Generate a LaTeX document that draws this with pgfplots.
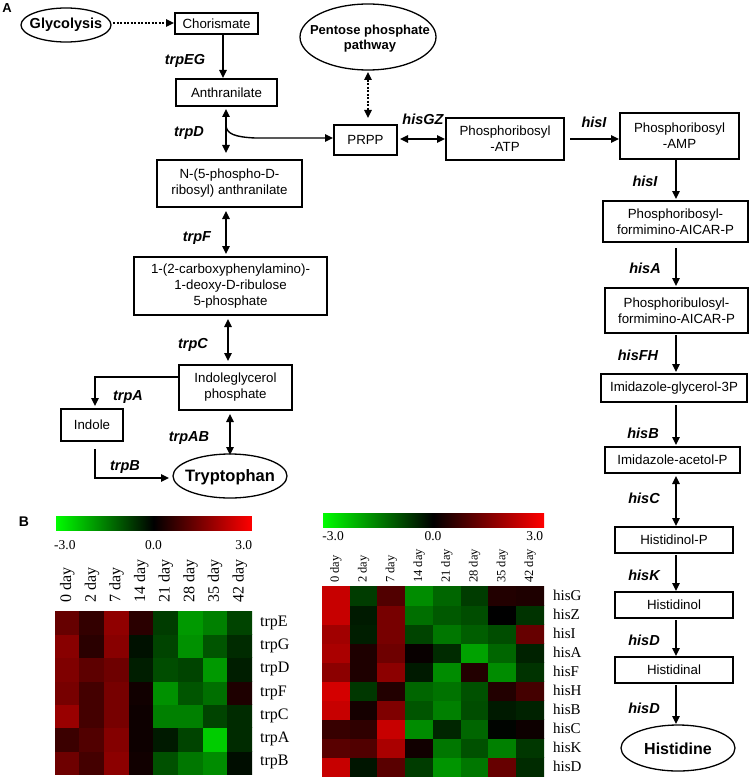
\documentclass[border=0pt]{standalone}
\usepackage{pgfplots}
\pgfplotsset{compat=1.18}
\usepackage{fontspec}
\setmainfont{Liberation Sans}
\newfontfamily\tnr{Liberation Serif}
\usetikzlibrary{arrows.meta}
\tikzset{
 bx/.style={draw, line width=1.1pt},
 tx/.style={font=\fontsize{13.3}{16}\selectfont, align=center, inner sep=0pt},
 gn/.style={font=\bfseries\itshape\fontsize{14.5}{16}\selectfont, inner sep=0pt},
 ar/.style={line width=1.4pt, -{Triangle[length=8pt,width=7.5pt]}},
 dar/.style={line width=1.4pt, {Triangle[length=8pt,width=7.5pt]}-{Triangle[length=8pt,width=7.5pt]}},
 dot/.style={line width=1.4pt, dash pattern=on 2pt off 1.5pt},
}
\newcommand{\bx}[5]{\draw[bx] (#1,-#2) rectangle (#3,-#4); \node[tx] at ({(#1+#3)/2},{-(#2+#4)/2}) {#5};}
\newcommand{\gl}[3]{\node[gn] at (#1,-#2) {#3};}
\pgfplotsset{
 hm/.style={anchor=south west, scale only axis, enlargelimits=false,
  xmin=-0.5, xmax=7.5,
  xtick={0,...,7}, xticklabels={0 day,2 day,7 day,14 day,21 day,28 day,35 day,42 day},
  xticklabel pos=upper,
  xticklabel style={rotate=90, anchor=west, inner sep=0pt},
  yticklabel pos=right,
  axis line style={draw=none}, major tick length=0pt,
  colormap={rg}{rgb255=(0,255,0) rgb255=(0,0,0) rgb255=(255,0,0)},
  point meta min=-3, point meta max=3,
  colorbar horizontal,
 },
 cb/.style={scale only axis, xtick={-2.7,0,2.75}, xticklabels={-3.0,0.0,3.0},
  xticklabel pos=lower, major tick length=0pt, axis line style={draw=none},
  xticklabel style={font=\tnr\fontsize{13.5}{14}\selectfont, inner sep=0pt}},
}
\begin{document}
\begin{tikzpicture}[x=1pt,y=1pt]
\useasboundingbox (0pt,0pt) rectangle (750pt,-778pt);
% ---------- Panel A ----------
\node[font=\bfseries\fontsize{13}{15}\selectfont] at (7,-8) {A};
\draw[line width=1.3pt] (66,-25) ellipse (45 and 17);
\node[font=\bfseries\fontsize{14.5}{16}\selectfont] at (66,-25) {Glycolysis};
\draw[dot, -{Triangle[length=8pt,width=7.5pt]}] (113,-23) -- (174,-23);
\bx{175}{13}{258}{34}{Chorismate}
\gl{185}{61}{trpEG}
\draw[ar] (223,-35) -- (223,-78);
\bx{176}{79}{277}{106}{Anthranilate}
\gl{189}{133}{trpD}
\draw[dar] (226,-109) -- (226,-153);
\draw[ar] (226,-126) .. controls (227,-134) and (235,-137) .. (255,-138) -- (333,-138);
\bx{157}{160}{302}{207}{N-(5-phospho-D-\\ribosyl) anthranilate}
\gl{197}{238}{trpF}
\draw[dar] (226,-211) -- (226,-254);
\bx{134}{257}{327}{315}{1-(2-carboxyphenylamino)-\\1-deoxy-D-ribulose\\5-phosphate}
\gl{193}{345}{trpC}
\draw[dar] (228,-319) -- (228,-361);
\bx{179}{365}{292}{410}{Indoleglycerol\\phosphate}
\draw[ar] (179,-377) -- (95,-377) -- (95,-406);
\gl{128}{397}{trpA}
\bx{61}{409}{123}{441}{Indole}
\gl{189}{438}{trpAB}
\draw[dar] (230,-414) -- (230,-455);
\draw[ar] (95,-449) -- (95,-478) -- (169,-478);
\gl{125}{467}{trpB}
\draw[line width=1.3pt] (230,-476) ellipse (57 and 22);
\node[font=\bfseries\fontsize{16.5}{18}\selectfont] at (230,-477) {Tryptophan};
% middle
\draw[line width=1.3pt] (368,-37) ellipse (68 and 33);
\node[font=\bfseries\fontsize{13}{15}\selectfont, align=center] at (370,-39) {Pentose phosphate\\pathway};
\draw[dot, {Triangle[length=8pt,width=7.5pt]}-{Triangle[length=8pt,width=7.5pt]}] (368,-72) -- (368,-118);
\bx{334}{125}{397}{155}{PRPP}
\gl{423}{119}{hisGZ}
\draw[dar] (400,-139) -- (445,-139);
\bx{446}{118}{564}{160}{Phosphoribosyl\\-ATP}
\gl{594}{122}{hisI}
\draw[ar] (570,-139) -- (619,-139);
% right column
\bx{620}{113}{739}{159}{Phosphoribosyl\\-AMP}
\gl{645}{181}{hisI}
\draw[ar] (676,-160) -- (676,-199);
\bx{603}{201}{748}{242}{Phosphoribosyl-\\formimino-AICAR-P}
\gl{645}{268}{hisA}
\draw[ar] (676,-248) -- (676,-286);
\bx{605}{288}{748}{333}{Phosphoribulosyl-\\formimino-AICAR-P}
\gl{638}{355}{hisFH}
\draw[ar] (676,-335) -- (676,-372);
\bx{601}{374}{747}{402}{Imidazole-glycerol-3P}
\gl{643}{433}{hisB}
\draw[ar] (676,-405) -- (676,-445);
\bx{605}{447}{740}{473}{Imidazole-acetol-P}
\gl{644}{498}{hisC}
\draw[dar] (676,-476) -- (676,-526);
\bx{615}{527}{733}{553}{Histidinol-P}
\gl{644}{575}{hisK}
\draw[ar] (676,-555) -- (676,-591);
\bx{615}{592}{733}{618}{Histidinol}
\gl{644}{640}{hisD}
\draw[ar] (676,-620) -- (676,-656);
\bx{615}{657}{733}{683}{Histidinal}
\gl{644}{708}{hisD}
\draw[ar] (676,-685) -- (676,-724);
\draw[line width=1.3pt] (678,-748) ellipse (57 and 23);
\node[font=\bfseries\fontsize{16}{18}\selectfont] at (678,-749) {Histidine};
% ---------- Panel B ----------
\node[font=\bfseries\fontsize{14}{15}\selectfont] at (24,-522) {B};
\begin{axis}[hm, at={(55pt,-774pt)}, width=197pt, height=163pt,
  ymin=-0.5, ymax=6.5, ytick={0,...,6},
  yticklabels={trpB,trpA,trpC,trpF,trpD,trpG,trpE},
  yticklabel style={anchor=west, inner sep=0pt, font=\tnr\fontsize{16}{16}\selectfont},
  xticklabel style={font=\tnr\fontsize{16}{16}\selectfont},
  yticklabel shift=8pt, xticklabel shift=8pt,
  colorbar style={cb, at={(55pt,-522pt)}, anchor=south west,
    width=197pt, height=16pt, xticklabel shift=10pt}]
\addplot[matrix plot*, mesh/cols=8, point meta=explicit] table[meta=c]{
x y c
0 0 1.3
1 0 0.8
2 0 1.65
3 0 0.2
4 0 -0.95
5 0 -1.4
6 0 -1.65
7 0 -0.15
0 1 0.7
1 1 0.95
2 1 1.55
3 1 0.15
4 1 -0.3
5 1 -0.8
6 1 -2.4
7 1 -0.5
0 2 1.8
1 2 0.8
2 2 1.4
3 2 0.15
4 2 -1.5
5 2 -1.5
6 2 -0.8
7 2 -0.5
0 3 1.4
1 3 0.8
2 3 1.4
3 3 0.2
4 3 -1.7
5 3 -1.0
6 3 -1.3
7 3 0.35
0 4 1.5
1 4 1.1
2 4 1.3
3 4 -0.35
4 4 -0.9
5 4 -0.8
6 4 -1.8
7 4 -0.35
0 5 1.6
1 5 0.5
2 5 1.6
3 5 -0.2
4 5 -0.8
5 5 -1.7
6 5 -1.0
7 5 -0.5
0 6 1.2
1 6 0.6
2 6 1.7
3 6 0.5
4 6 -0.7
5 6 -1.8
6 6 -1.5
7 6 -0.8
};
\end{axis}
\begin{axis}[hm, at={(322pt,-776pt)}, width=222pt, height=190pt,
  ymin=-0.5, ymax=9.5, ytick={0,...,9},
  yticklabels={hisD,hisK,hisC,hisB,hisH,hisF,hisA,hisI,hisZ,hisG},
  yticklabel style={anchor=west, inner sep=0pt, font=\tnr\fontsize{15}{15}\selectfont},
  xticklabel style={font=\tnr\fontsize{12.5}{12.5}\selectfont},
  yticklabel shift=9pt, xticklabel shift=3pt,
  colorbar style={cb, at={(322pt,-519pt)}, anchor=south west,
    width=222pt, height=14pt, xticklabel shift=4pt}]
\addplot[matrix plot*, mesh/cols=8, point meta=explicit] table[meta=c]{
x y c
0 0 2.35
1 0 -0.25
2 0 1.05
3 0 -0.7
4 0 -1.75
5 0 -1.4
6 0 1.2
7 0 -0.5
0 1 1.05
1 1 0.95
2 1 2.0
3 1 0.2
4 1 -1.4
5 1 -0.95
6 1 -1.5
7 1 -0.65
0 2 0.65
1 2 0.55
2 2 2.35
3 2 -1.65
4 2 -0.45
5 2 -1.2
6 2 -0.05
7 2 0.15
0 3 2.35
1 3 0.25
2 3 1.5
3 3 -1.0
4 3 -1.5
5 3 -0.9
6 3 -0.3
7 3 -0.4
0 4 2.5
1 4 -0.65
2 4 0.4
3 4 -1.2
4 4 -1.35
5 4 -0.95
6 4 0.4
7 4 0.8
0 5 1.65
1 5 0.35
2 5 1.65
3 5 -0.3
4 5 -1.65
5 5 0.4
6 5 -1.65
7 5 -0.6
0 6 2.0
1 6 0.35
2 6 1.3
3 6 0.1
4 6 -0.5
5 6 -1.9
6 6 -1.2
7 6 -0.4
0 7 1.9
1 7 -0.35
2 7 1.4
3 7 -0.8
4 7 -1.4
5 7 -1.1
6 7 -0.9
7 7 1.2
0 8 2.35
1 8 -0.3
2 8 1.4
3 8 -1.3
4 8 -1.05
5 8 -0.9
6 8 0.0
7 8 -0.6
0 9 2.35
1 9 -0.7
2 9 0.95
3 9 -1.65
4 9 -1.2
5 9 -0.7
6 9 0.4
7 9 0.35
};
\end{axis}
\end{tikzpicture}
\end{document}
